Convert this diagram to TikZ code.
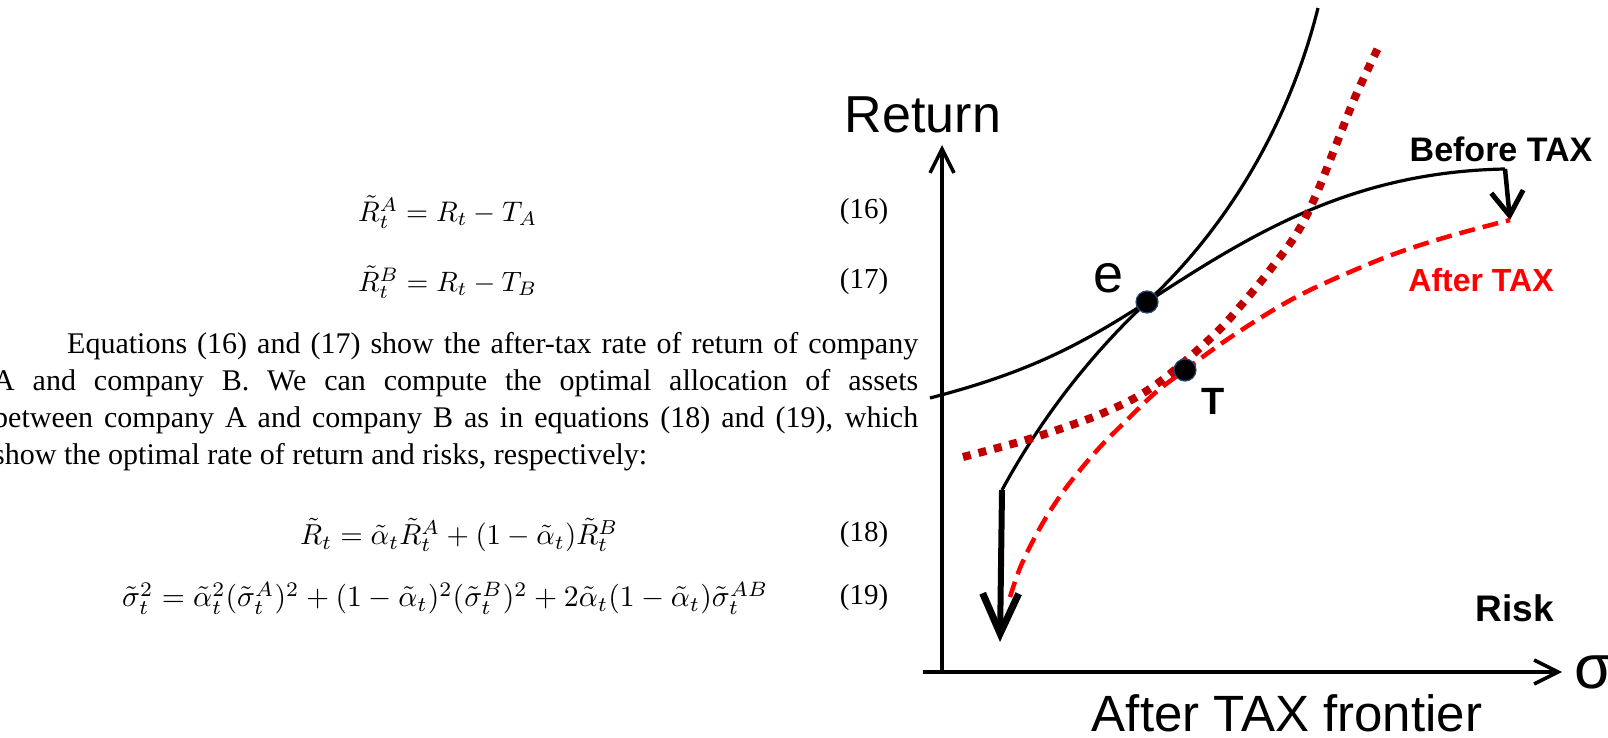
\documentclass[tikz,border=0pt]{standalone}
\usepackage{fontspec}
\usepackage{graphicx}
\setmainfont{Liberation Serif}
\newfontfamily\arialfont{Liberation Sans}
\usetikzlibrary{arrows.meta}
\definecolor{darkred}{RGB}{192,0,0}
\definecolor{brightred}{RGB}{255,0,0}
\definecolor{dotblue}{RGB}{40,70,120}
\begin{document}
\begin{tikzpicture}[x=1pt,y=-1pt,
  txt/.style={inner sep=0pt, anchor=base west, font=\fontsize{30}{36}\selectfont},
  eqn/.style={inner sep=0pt, anchor=west},
  eqnum/.style={inner sep=0pt, font=\fontsize{29}{34}\selectfont},
  axisline/.style={line width=3.5pt, -{Straight Barb[length=24pt,width=24pt,line width=3.5pt]}},
  curveblack/.style={line width=3.2pt, black},
  aftertax/.style={line width=4.5pt, brightred, dash pattern=on 16pt off 8pt},
  dottedred/.style={line width=8pt, darkred, dash pattern=on 8pt off 8pt},
  marker/.style={circle, fill=black, draw=dotblue, line width=1.2pt, minimum size=22pt, inner sep=0pt},
  bigsans/.style={inner sep=0pt, anchor=base, font=\arialfont\fontsize{52}{52}\selectfont},
  boldsans/.style={inner sep=0pt, anchor=base, font=\arialfont\bfseries\fontsize{34}{34}\selectfont},
]
\useasboundingbox (0,0) rectangle (1608,738);
\fill[white] (0,0) rectangle (1608,738);

% paragraph
\node[txt] (p1) at (67,353) {\makebox[851pt][s]{Equations (16) and (17) show the after-tax rate of return of company}};
\node[txt] (p2) at (-7,390) {\makebox[925pt][s]{A and company B. We can compute the optimal allocation of assets}};
\node[txt] (p3) at (-7,427) {\makebox[925pt][s]{between company A and company B as in equations (18) and (19), which}};
\node[txt] (p4) at (-7,464) {show the optimal rate of return and risks, respectively:};

% equations
\node[eqn] (eq16) at (358,212) {\resizebox{179pt}{!}{$\tilde{R}_t^A = R_t - T_A$}};
\node[eqn] (eq17) at (358,282) {\resizebox{179pt}{!}{$\tilde{R}_t^B = R_t - T_B$}};
\node[eqn] (eq18) at (300,535) {\resizebox{318pt}{!}{$\tilde{R}_t = \tilde{\alpha}_t\tilde{R}_t^A + (1-\tilde{\alpha}_t)\tilde{R}_t^B$}};
\node[eqn] (eq19) at (122,598) {\resizebox{646pt}{!}{$\tilde{\sigma}_t^2 = \tilde{\alpha}_t^2(\tilde{\sigma}_t^A)^2 + (1-\tilde{\alpha}_t)^2(\tilde{\sigma}_t^B)^2 + 2\tilde{\alpha}_t(1-\tilde{\alpha}_t)\tilde{\sigma}_t^{AB}$}};
\node[eqnum] (n16) at (864,212) {(16)};
\node[eqnum] (n17) at (864,282) {(17)};
\node[eqnum] (n18) at (864,535) {(18)};
\node[eqnum] (n19) at (864,598) {(19)};

% axes
\coordinate (yb) at (942,670);
\coordinate (yt) at (942,145);
\coordinate (xl) at (923,672);
\coordinate (xr) at (1562,672);
\draw[axisline] (yb) -- (yt);
\draw[axisline] (xl) -- (xr);

% points on curves
\coordinate (ept) at (1147,302);
\coordinate (tpt) at (1185,370);

% steep black curve with big arrow
\coordinate (bigtop) at (1002,490);
\coordinate (bigtip) at (1000,642);
\coordinate (steeptop) at (1318,8);
\draw[curveblack] (bigtop) .. controls (1040,420) and (1090,355) .. (ept)
  .. controls (1230,225) and (1290,120) .. (steeptop);
\draw[line width=6pt, -{Straight Barb[length=40pt,width=36pt,line width=7pt]}] (bigtop) -- (bigtip);

% before tax frontier
\coordinate (btstart) at (930,398);
\coordinate (btend) at (1505,169);
\coordinate (atend) at (1510,220);
\draw[curveblack] (btstart) .. controls (1030,372) and (1080,345) .. (ept)
  .. controls (1250,235) and (1350,172) .. (btend);
\draw[line width=4.5pt, -{Straight Barb[length=24pt,width=32pt,line width=5pt]}] (btend) -- (atend);

% after tax frontier (dashed)
\draw[aftertax] plot[smooth, tension=0.6] coordinates {(1010,597) (1020,568) (1035,537) (1052,508) (1072,480) (1100,447) (1126,421) (1155,393) (tpt) (1225,341) (1270,312) (1306,292) (1350,272) (1397,253) (1450,236) (atend)};

% dotted dark red curve
\draw[dottedred] plot[smooth, tension=0.6] coordinates {(963,457) (1026,440) (1080,422) (1110,410) (1140,395) (1171,373) (1216,333) (1243,303) (1270,270) (1297,233) (1316,195) (1336,145) (1356,95) (1378,48)};

% points
\node[marker] (e) at (ept) {};
\node[marker] (T) at (tpt) {};

% labels
\node[bigsans] (ret) at (923,133) {Return};
\node[bigsans, font=\arialfont\fontsize{51}{51}\selectfont] (front) at (1287,731) {After TAX frontier};
\node[boldsans] (before) at (1501,162) {Before TAX};
\node[boldsans, font=\arialfont\bfseries\fontsize{32}{32}\selectfont, text=brightred] (after) at (1481,291) {After TAX};
\node[boldsans, font=\arialfont\bfseries\fontsize{37}{37}\selectfont] (risk) at (1515,621) {Risk};
\node[bigsans, font=\arialfont\fontsize{54}{54}\selectfont] (elabel) at (1108,292) {e};
\node[boldsans, font=\arialfont\bfseries\fontsize{38}{38}\selectfont] (Tlabel) at (1213,414) {T};
\node[bigsans, anchor=base west, font=\arialfont\fontsize{62}{62}\selectfont] (sigma) at (1574,688) {σ};
\end{tikzpicture}
\end{document}
